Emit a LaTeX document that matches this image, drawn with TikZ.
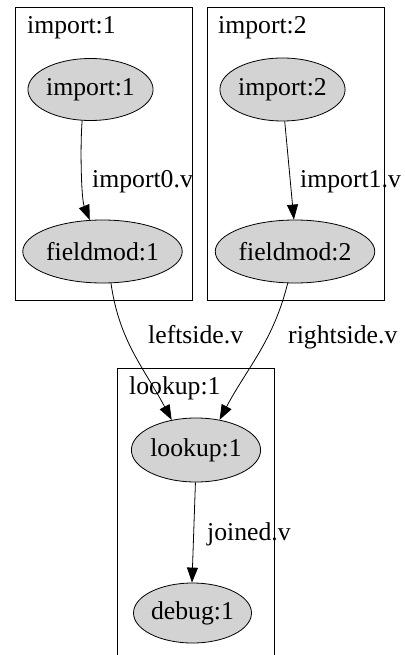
\documentclass[tikz,border=0pt]{standalone}
\usepackage{fontspec}
\setmainfont{Liberation Serif}
\usetikzlibrary{shapes.geometric,arrows.meta}
\begin{document}
\begin{tikzpicture}[x=1pt,y=1pt,
  font=\fontsize{25.7}{30}\selectfont,
  nd/.style={ellipse,draw=black,line width=0.8pt,fill={rgb,255:red,211;green,211;blue,211},inner sep=0pt},
  cl/.style={draw=black,line width=0.9pt},
  lbl/.style={anchor=base west,inner sep=0pt},
  edge/.style={draw=black,line width=0.8pt,-{Triangle[length=15pt,width=11pt]}}]
\useasboundingbox (0,0) rectangle (404,-655);
\fill[white] (0,0) rectangle (404,-655);
% clusters
\draw[cl] (15,-7) rectangle (192,-300);
\draw[cl] (207,-7) rectangle (384,-300);
\draw[cl] (117,-368) rectangle (274,-680);
\node[lbl] (c1) at (27,-34) {import:1};
\node[lbl] (c2) at (218,-34) {import:2};
\node[lbl] (c3) at (129,-394) {lookup:1};
% nodes
\node[nd,minimum width=122pt,minimum height=62pt] (i1) at (90.5,-89.5) {import:1};
\node[nd,minimum width=148pt,minimum height=63pt] (f1) at (102.5,-251.5) {fieldmod:1};
\node[nd,minimum width=121pt,minimum height=63pt] (i2) at (282.5,-89.5) {import:2};
\node[nd,minimum width=148pt,minimum height=63pt] (f2) at (295,-251.5) {fieldmod:2};
\node[nd,minimum width=128pt,minimum height=64pt] (lk) at (196,-450) {lookup:1};
\node[nd,minimum width=118pt,minimum height=60pt] (db) at (192.5,-613) {debug:1};
% edges
\draw[edge] (i1.255) to[out=265,in=112,looseness=0.6] (f1.112);
\draw[edge] (i2.274) -- (f2.92);
\draw[edge] (f1.285) to[out=278,in=118] (lk.129);
\draw[edge] (f2.257) to[out=256,in=62] (lk.52);
\draw[edge] (lk.269) -- (db.91);
% edge labels
\node[lbl] (e1) at (92,-187) {import0.v};
\node[lbl] (e2) at (300,-187) {import1.v};
\node[lbl] (e3) at (148,-343) {leftside.v};
\node[lbl] (e4) at (288,-343) {rightside.v};
\node[lbl] (e5) at (207,-540) {joined.v};
\end{tikzpicture}
\end{document}
